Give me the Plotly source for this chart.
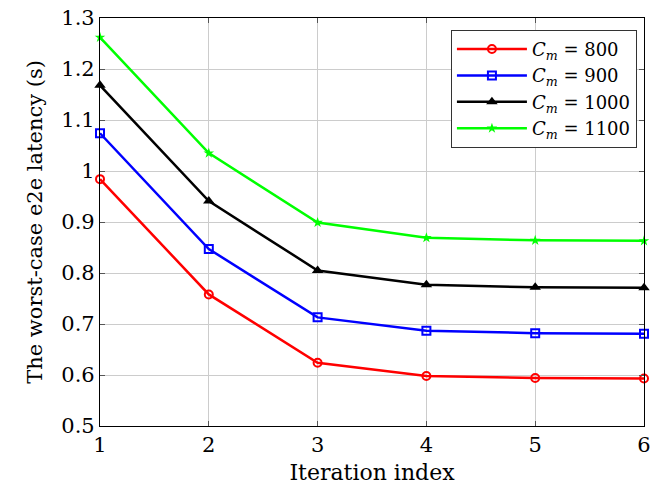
import plotly.graph_objects as go

iterations = [1, 2, 3, 4, 5, 6]
cm800 = [0.984, 0.758, 0.624, 0.598, 0.594, 0.593]
cm900 = [1.074, 0.847, 0.713, 0.687, 0.682, 0.681]
cm1000 = [1.168, 0.941, 0.805, 0.777, 0.772, 0.771]
cm1100 = [1.262, 1.035, 0.899, 0.869, 0.864, 0.863]
names = ["800", "900", "1000", "1100"]
y_ticks = [0.5, 0.6, 0.7, 0.8, 0.9, 1.0, 1.1, 1.2, 1.3]
y_ticktext = ["0.5", "0.6", "0.7", "0.8", "0.9", "1", "1.1", "1.2", "1.3"]

FONT = "DejaVu Serif, Liberation Serif, serif"

styles = [
    (cm800, "#ff0000", dict(symbol="circle-open", size=8, line=dict(width=2, color="#ff0000"))),
    (cm900, "#0000ff", dict(symbol="square-open", size=8, line=dict(width=2, color="#0000ff"))),
    (cm1000, "#000000", dict(symbol="triangle-up", size=10, color="#000000")),
    (cm1100, "#00ff00", dict(symbol="star", size=8, color="#00ff00")),
]

fig = go.Figure()
for (vals, col, mk), nm in zip(styles, names):
    fig.add_trace(go.Scatter(
        x=iterations, y=vals, mode="lines+markers",
        name=f"<i>C<sub>m</sub></i> = {nm}",
        line=dict(color=col, width=2.5),
        marker=mk,
        cliponaxis=False,
    ))

axis_common = dict(
    showline=True, linecolor="black", linewidth=1.2, mirror="allticks",
    ticks="inside", ticklen=5, tickcolor="#555555",
    showgrid=True, gridcolor="#cccccc", gridwidth=1,
    zeroline=False, ticklabeloverflow="allow", automargin=False,
    tickfont=dict(family=FONT, size=21, color="black"),
)

# the page body adds an 8px offset, so the figure is sized and margined to compensate
fig.update_layout(
    width=654, height=485,
    margin=dict(l=92, r=18, t=10, b=67),
    plot_bgcolor="white", paper_bgcolor="white",
    font=dict(family=FONT, size=21, color="black"),
    xaxis=dict(range=[1, 6], tickvals=iterations, **axis_common,
               title=dict(text="Iteration index", font=dict(family=FONT, size=22), standoff=8)),
    yaxis=dict(range=[0.5, 1.3], tickvals=y_ticks, ticktext=y_ticktext, **axis_common,
               title=dict(text="The worst-case e2e latency (s)", font=dict(family=FONT, size=21), standoff=12)),
    legend=dict(
        x=0.987, y=0.971, xanchor="right", yanchor="top",
        bgcolor="white", bordercolor="#333333", borderwidth=1,
        font=dict(family=FONT, size=18),
        itemwidth=70,
        tracegroupgap=0,
    ),
    showlegend=True,
)

fig.write_html("out.html")
